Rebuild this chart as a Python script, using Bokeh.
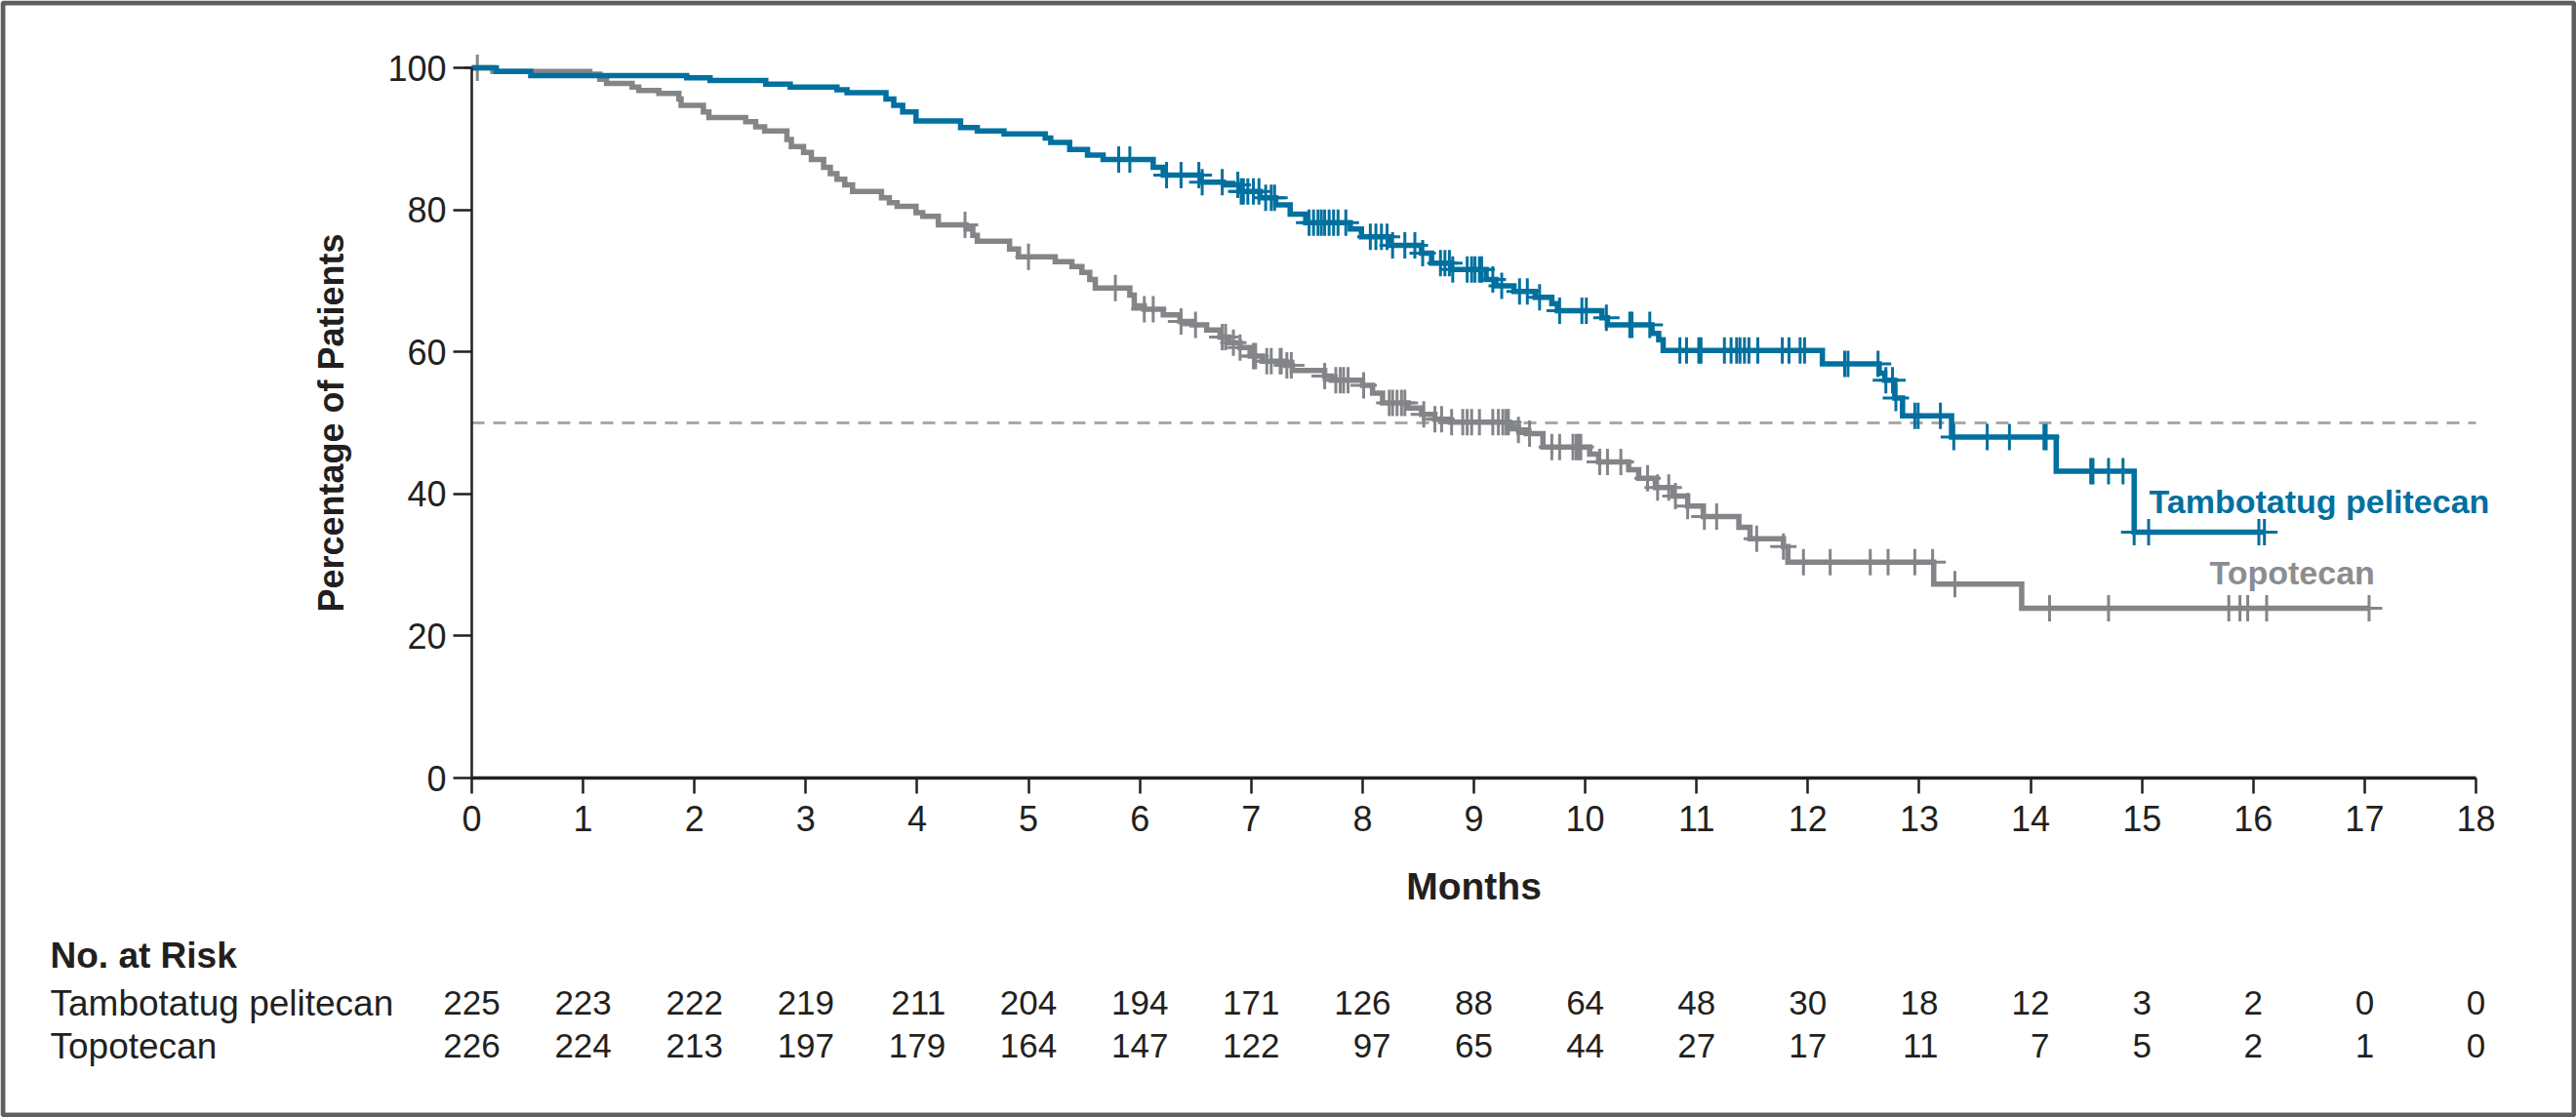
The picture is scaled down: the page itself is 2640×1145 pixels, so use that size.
import numpy as np
from bokeh.plotting import figure
from bokeh.models import Range1d, ColumnDataSource, FixedTicker, LinearAxis
from bokeh.embed import file_html
from bokeh.resources import INLINE
from bokeh.core.properties import value

# ---------------- data ----------------
month_ticks = list(range(0, 19))
pct_ticks = [0, 20, 40, 60, 80, 100]
median_level = 50

tamb_name = "Tambotatug pelitecan"
topo_name = "Topotecan"
risk_title = "No. at Risk"
x_title = "Months"
y_title = "Percentage of Patients"

# Kaplan-Meier steps (month, percent surviving after the step)
tamb_times = [0, 0.22, 0.53, 1.93, 2.14, 2.64, 2.86, 3.28, 3.37, 3.72, 3.79, 3.87, 3.99,
              4.39, 4.54, 4.78, 5.15, 5.20, 5.37, 5.53, 5.67, 6.12, 6.21, 6.55, 6.75,
              6.90, 7.08, 7.22, 7.35, 7.49, 7.89, 7.99, 8.25, 8.53, 8.62, 8.80, 9.11,
              9.20, 9.36, 9.55, 9.70, 9.75, 10.15, 10.20, 10.60, 10.66, 10.70, 12.13,
              12.64, 12.69, 12.78, 12.85, 13.29, 14.23, 14.93]
tamb_surv = [100, 99.5, 98.9, 98.6, 98.2, 97.7, 97.3, 96.9, 96.5, 95.6, 94.7, 93.8, 92.5,
             91.6, 91.1, 90.7, 90.1, 89.5, 88.5, 87.7, 87.1, 86.0, 84.9, 83.9, 83.5,
             82.6, 81.7, 80.7, 79.4, 78.2, 77.3, 76.2, 75.0, 73.9, 72.5, 71.6, 70.2,
             69.3, 68.5, 67.7, 66.8, 65.8, 64.8, 63.8, 62.6, 61.7, 60.2, 58.3,
             57.0, 56.0, 53.5, 51.0, 48.0, 43.2, 34.6]
tamb_end = 16.10
tamb_censor = [5.81, 5.91, 6.24, 6.37, 6.53, 6.56, 6.74, 6.88, 6.91, 6.93, 6.97, 7.02, 7.07,
               7.13, 7.18, 7.21, 7.52, 7.56, 7.60, 7.63, 7.66, 7.70, 7.74, 7.78, 7.85,
               8.07, 8.12, 8.17, 8.22, 8.27, 8.38, 8.47, 8.54, 8.70, 8.74, 8.78, 8.81,
               8.94, 8.98, 9.01, 9.05, 9.07, 9.17, 9.25, 9.41, 9.48, 9.59, 9.77, 9.97,
               10.01, 10.19, 10.40, 10.42, 10.58, 10.85, 10.91, 11.02, 11.04, 11.25,
               11.31, 11.36, 11.39, 11.43, 11.47, 11.55, 11.77, 11.83, 11.93, 11.97,
               12.33, 12.36, 12.63, 12.70, 12.76, 12.79, 12.96, 12.99, 13.19, 13.31,
               13.61, 13.81, 14.12, 14.14, 14.54, 14.56, 14.70, 14.83, 14.93, 15.06,
               16.05, 16.10]

topo_times = [0, 0.19, 1.06, 1.15, 1.21, 1.44, 1.50, 1.68, 1.86, 1.88, 2.08, 2.13, 2.46,
              2.55, 2.63, 2.83, 2.87, 2.98, 3.05, 3.16, 3.22, 3.28, 3.35, 3.42, 3.68,
              3.75, 3.82, 3.99, 4.05, 4.19, 4.44, 4.50, 4.54, 4.83, 4.91, 5.24, 5.39,
              5.48, 5.55, 5.60, 5.91, 5.95, 6.04, 6.21, 6.36, 6.47, 6.60, 6.72, 6.80,
              6.90, 6.99, 7.10, 7.31, 7.37, 7.66, 7.72, 8.00, 8.09, 8.18, 8.41, 8.53,
              8.65, 8.79, 9.32, 9.40, 9.47, 9.62, 10.04, 10.12, 10.39, 10.48, 10.63,
              10.79, 10.92, 11.06, 11.38, 11.48, 11.78, 11.82, 13.13, 13.92]
topo_surv = [100, 99.5, 99.1, 98.4, 97.8, 97.3, 96.8, 96.4, 95.6, 94.7, 93.8, 93.0, 92.4,
             91.7, 91.1, 89.9, 88.9, 88.1, 87.1, 86.0, 85.1, 84.3, 83.5, 82.6, 81.7,
             81.0, 80.5, 79.6, 79.1, 77.9, 77.3, 76.4, 75.6, 74.5, 73.4, 72.7, 72.0,
             71.2, 70.2, 69.0, 68.0, 66.5, 66.0, 65.2, 64.3, 63.8, 63.1, 62.1, 61.3,
             60.6, 59.4, 58.7, 58.1, 57.4, 56.6, 56.0, 55.3, 54.2, 52.8, 52.1, 51.2,
             50.5, 50.1, 49.5, 49.0, 48.5, 46.6, 45.6, 44.5, 43.4, 42.2, 40.9,
             39.7, 38.3, 36.8, 35.3, 33.7, 32.6, 30.4, 27.3, 23.9]
topo_end = 17.04
topo_censor = [0.05, 4.43, 5.00, 5.78, 6.04, 6.12, 6.37, 6.50, 6.74, 6.77, 6.84, 6.90, 7.02,
               7.04, 7.14, 7.18, 7.26, 7.27, 7.32, 7.36, 7.66, 7.76, 7.80, 7.83, 7.87,
               8.01, 8.24, 8.27, 8.31, 8.35, 8.38, 8.55, 8.65, 8.71, 8.80, 8.90, 8.94,
               8.98, 9.05, 9.17, 9.22, 9.26, 9.29, 9.31, 9.40, 9.50, 9.70, 9.77, 9.89,
               9.92, 9.94, 9.96, 10.13, 10.20, 10.32, 10.56, 10.65, 10.75, 10.81, 10.92,
               11.07, 11.18, 11.54, 11.78, 11.96, 12.20, 12.56, 12.72, 12.96, 13.12,
               13.32, 14.17, 14.70, 15.78, 15.88, 15.95, 16.12, 17.04]

risk_tamb = [225, 223, 222, 219, 211, 204, 194, 171, 126, 88, 64, 48, 30, 18, 12, 3, 2, 0, 0]
risk_topo = [226, 224, 213, 197, 179, 164, 147, 122, 97, 65, 44, 27, 17, 11, 7, 5, 2, 1, 0]

# ---------------- style ----------------
BLUE = "#00709F"
GRAY = "#838588"
GRAY_TXT = "#8B8D90"
DASH = "#A7A9AC"
INK = "#231F20"
BORDER = "#5E5F62"
FONT = "Liberation Sans"

W, H = 2640, 1145
# pixel placement of the survival panel inside the canvas
FRAME_L, FRAME_R, FRAME_T, FRAME_B = 483, 2537, 69, 797
px_per_m = (FRAME_R - FRAME_L) / month_ticks[-1]
px_per_pct = (FRAME_B - FRAME_T) / pct_ticks[-1]


def m_at(px):
    return (px - FRAME_L) / px_per_m


def pct_at(py):
    return (FRAME_B - py) / px_per_pct


def surv_at(times, vals, t):
    idx = 0
    for i, tt in enumerate(times):
        if tt <= t:
            idx = i
    return vals[idx]


# ---------------- figure (frame covers the whole canvas) ----------------
p = figure(width=W, height=H, x_range=Range1d(m_at(0), m_at(W)),
           y_range=Range1d(pct_at(H), pct_at(0)), output_backend="svg",
           toolbar_location=None, min_border=0, x_axis_type=None, y_axis_type=None)
p.outline_line_color = None
p.background_fill_color = "white"
p.border_fill_color = "white"

# outer panel frame
p.quad(left=[m_at(2.5)], right=[m_at(W - 2.5)], top=[pct_at(2.5)], bottom=[pct_at(H - 2.5)],
       fill_alpha=0, line_color=BORDER, line_width=5)

# median reference line
p.segment(x0=[month_ticks[0]], y0=[median_level], x1=[month_ticks[-1]], y1=[median_level],
          line_color=DASH, line_width=3, line_dash="13 9")

for times, surv, end, cens, col in [(topo_times, topo_surv, topo_end, topo_censor, GRAY),
                                    (tamb_times, tamb_surv, tamb_end, tamb_censor, BLUE)]:
    xs = list(times) + [end]
    ys = list(surv) + [surv[-1]]
    p.step(x=xs, y=ys, mode="after", line_color=col, line_width=5.5, line_join="miter")
    cy = [surv_at(times, surv, t) for t in cens]
    p.scatter(x=cens, y=cy, marker="cross", size=27, line_color=col, line_width=3)

# axes at fixed data locations
xa = LinearAxis(fixed_location=0, bounds=(month_ticks[0], month_ticks[-1]),
                ticker=FixedTicker(ticks=month_ticks))
ya = LinearAxis(fixed_location=0, bounds=(pct_ticks[0], pct_ticks[-1]),
                ticker=FixedTicker(ticks=pct_ticks))
for ax in (xa, ya):
    ax.minor_tick_line_color = None
    ax.major_tick_in = 0
    ax.axis_line_color = INK
    ax.major_tick_line_color = INK
    ax.major_tick_line_width = 2.5
    ax.major_label_text_font = FONT
    ax.major_label_text_font_size = "36px"
    ax.major_label_text_color = INK
xa.axis_line_width = 3.5
ya.axis_line_width = 2.5
xa.major_tick_out = 16
ya.major_tick_out = 19
xa.major_label_standoff = 12
ya.major_label_standoff = 7
p.add_layout(xa, "below")
p.add_layout(ya, "left")

# axis titles
p.text(x=[month_ticks[-1] / 2], y=[pct_at(907.5)], text=[x_title], text_font=value(FONT),
       text_font_style="bold", text_font_size="39px", text_color=INK,
       text_align="center", text_baseline="middle")
p.text(x=[m_at(339)], y=[median_level], text=[y_title], angle=np.pi / 2,
       text_font=value(FONT), text_font_style="bold", text_font_size="36px",
       text_color=INK, text_align="center", text_baseline="middle")

# curve labels
p.text(x=[m_at(2202)], y=[pct_at(513.5)], text=[tamb_name], text_font=value(FONT),
       text_font_style="bold", text_font_size="34px", text_color=BLUE,
       text_align="left", text_baseline="middle")
p.text(x=[m_at(2264)], y=[pct_at(586)], text=[topo_name], text_font=value(FONT),
       text_font_style="bold", text_font_size="34px", text_color=GRAY_TXT,
       text_align="left", text_baseline="middle")

# ---------------- risk table ----------------
label_x = m_at(51)
row_y = [pct_at(1027.5), pct_at(1071.8)]
p.text(x=[label_x], y=[pct_at(979)], text=[risk_title], text_font=value(FONT),
       text_font_style="bold", text_font_size="37px", text_color=INK,
       text_align="left", text_baseline="middle")
p.text(x=[label_x, label_x], y=row_y, text=[tamb_name, topo_name], text_font=value(FONT),
       text_font_size="37px", text_color=INK, text_align="left", text_baseline="middle")

digit_w = 0.556 * 35
xs, ys, txt, xo = [], [], [], []
for m, a, b in zip(month_ticks, risk_tamb, risk_topo):
    nd = max(len(str(a)), len(str(b)))
    for val, yy in ((a, row_y[0]), (b, row_y[1])):
        xs.append(m)
        ys.append(yy)
        txt.append(str(val))
        xo.append(nd * digit_w / 2)
src = ColumnDataSource(dict(x=xs, y=ys, text=txt, xo=xo))
p.text(x="x", y="y", text="text", x_offset="xo", source=src, text_font=value(FONT),
       text_font_size="35px", text_color=INK, text_align="right", text_baseline="middle")

open("out.html", "w").write(file_html(p, INLINE))
